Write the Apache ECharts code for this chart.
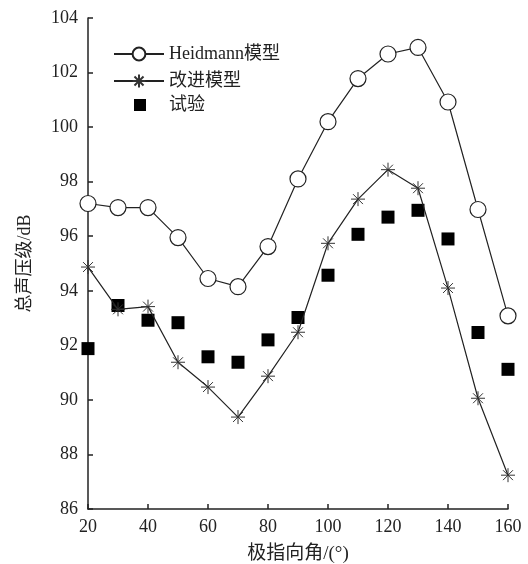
<!DOCTYPE html>
<html>
<head>
<meta charset="utf-8">
<script src="https://cdn.jsdelivr.net/npm/echarts@6/dist/echarts.min.js"></script>
<style>
html,body{margin:0;padding:0;background:#fff;}
#chart{width:528px;height:564px;}
</style>
</head>
<body>
<div id="chart"></div>
<script>
// 极指向角
var angles = [20, 30, 40, 50, 60, 70, 80, 90, 100, 110, 120, 130, 140, 150, 160];
// Heidmann模型
var heidmannData = [97.2, 97.05, 97.05, 95.95, 94.45, 94.15, 95.62, 98.1, 100.2, 101.78, 102.68, 102.92, 100.92, 96.98, 93.08];
// 改进模型
var improvedData = [94.87, 93.32, 93.42, 91.38, 90.47, 89.37, 90.87, 92.48, 95.74, 97.36, 98.44, 97.76, 94.1, 90.06, 87.24];
// 试验
var testData = [91.88, 93.46, 92.92, 92.83, 91.58, 91.38, 92.2, 93.02, 94.57, 96.07, 96.7, 96.95, 95.9, 92.47, 91.12];

var fontFamily = "'Liberation Serif', 'Noto Sans CJK SC', serif";
var textColor = "#222";
var starPath = 'path://M0,-10L0,10M-10,0L10,0M-7.07,-7.07L7.07,7.07M-7.07,7.07L7.07,-7.07';

function pairs(values){
	var out = [];
	for(var i = 0; i < angles.length; i++){
		out.push([angles[i], values[i]]);
	}
	return out;
}

var legendText = {
	fontFamily: fontFamily,
	fontSize: 18,
	color: textColor
};

var chart = echarts.init(document.getElementById('chart'));
var option = {
	backgroundColor: '#fff',
	animation: false,
	grid: {
		left: 88,
		right: 20,
		top: 18,
		bottom: 55,
		outerBoundsMode: 'none'
	},
	legend: [{
		left: 108,
		top: 40,
		orient: 'vertical',
		itemWidth: 50,
		itemHeight: 16,
		itemGap: 9,
		textStyle: legendText,
		data: ['Heidmann模型', '改进模型']
	}, {
		left: 129,
		top: 91,
		itemWidth: 12,
		itemHeight: 12,
		textStyle: {
			fontFamily: fontFamily,
			fontSize: 18,
			color: textColor,
			padding: [0, 0, 0, 18]
		},
		data: ['试验']
	}],
	xAxis: {
		type: 'value',
		min: 20,
		max: 160,
		interval: 20,
		name: '极指向角/(°)',
		nameLocation: 'middle',
		nameGap: 36,
		nameTextStyle: {
			fontFamily: fontFamily,
			fontSize: 19,
			color: textColor
		},
		axisLine: { lineStyle: { color: '#222', width: 1.5 } },
		axisTick: { inside: true, length: 5, lineStyle: { color: '#222', width: 1.5 } },
		axisLabel: {
			fontFamily: fontFamily,
			fontSize: 18,
			color: textColor,
			margin: 9
		},
		splitLine: { show: false }
	},
	yAxis: {
		type: 'value',
		min: 86,
		max: 104,
		interval: 2,
		name: '总声压级/dB',
		nameLocation: 'middle',
		nameGap: 54,
		nameTextStyle: {
			fontFamily: fontFamily,
			fontSize: 18,
			color: textColor
		},
		axisLine: { show: true, lineStyle: { color: '#222', width: 1.5 } },
		axisTick: { show: true, inside: true, length: 5, lineStyle: { color: '#222', width: 1.5 } },
		axisLabel: {
			fontFamily: fontFamily,
			fontSize: 18,
			color: textColor,
			margin: 10
		},
		splitLine: { show: false }
	},
	series: [
		{
			name: 'Heidmann模型',
			type: 'line',
			data: pairs(heidmannData),
			symbol: 'circle',
			symbolSize: 16,
			showAllSymbol: true,
			lineStyle: { color: '#222', width: 1.2 },
			itemStyle: { color: '#fff', borderColor: '#222', borderWidth: 1.2 },
			z: 3
		},
		{
			name: '改进模型',
			type: 'line',
			data: pairs(improvedData),
			symbol: starPath,
			symbolSize: 14,
			showAllSymbol: true,
			lineStyle: { color: '#222', width: 1.2 },
			itemStyle: { color: 'none', borderColor: '#333', borderWidth: 1 },
			z: 3
		},
		{
			name: '试验',
			type: 'scatter',
			data: pairs(testData),
			symbol: 'rect',
			symbolSize: 13,
			itemStyle: { color: '#000', opacity: 1 },
			z: 2
		}
	]
};
chart.setOption(option);
</script>
</body>
</html>
